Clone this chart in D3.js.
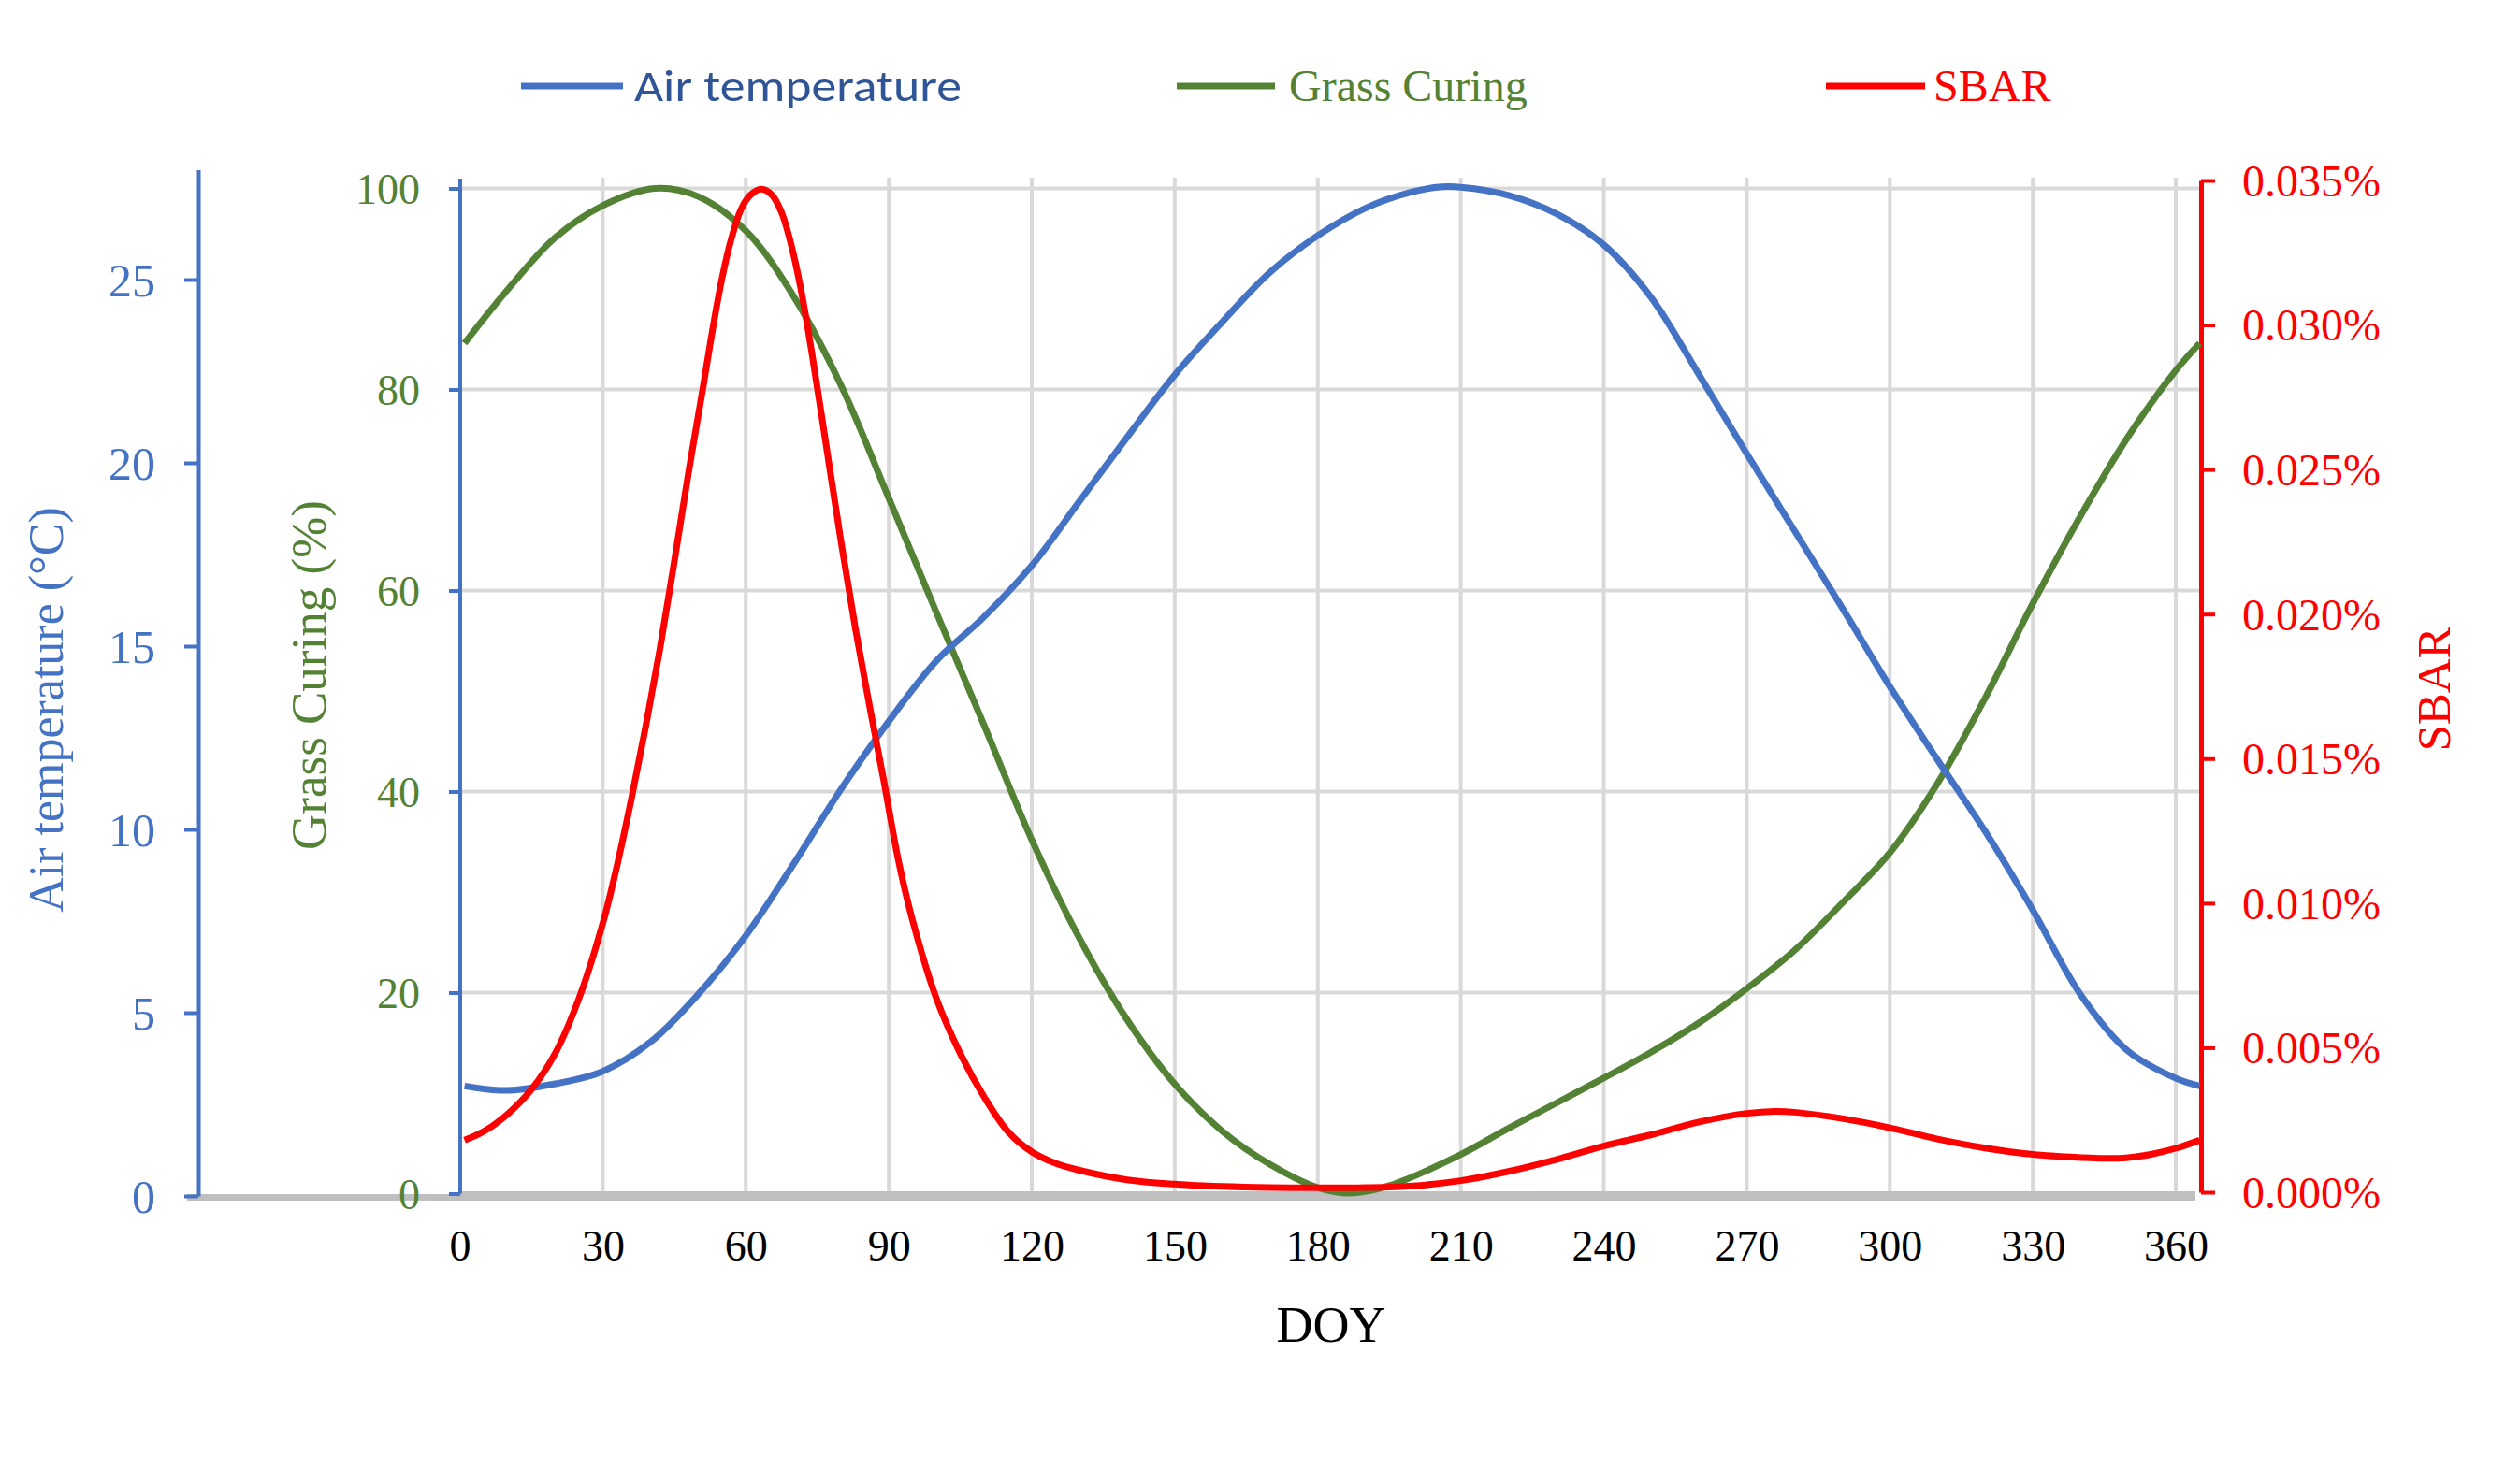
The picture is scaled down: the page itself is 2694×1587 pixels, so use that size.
<!DOCTYPE html>
<html><head><meta charset="utf-8">
<script src="https://cdn.jsdelivr.net/npm/d3@7"></script>
<style>
html,body{margin:0;padding:0;background:#fff;}
svg{display:block;}
</style></head><body>
<svg id="chart" width="2694" height="1587"></svg>
<script>
// ---------- DATA ----------
const seriesNames = ["Air temperature", "Grass Curing", "SBAR"];
const doyTicks = [0, 30, 60, 90, 120, 150, 180, 210, 240, 270, 300, 330, 360];
const airTicks = [0, 5, 10, 15, 20, 25];
const grassTicks = [0, 20, 40, 60, 80, 100];
const sbarTicks = [0, 0.005, 0.010, 0.015, 0.020, 0.025, 0.030, 0.035]; // in %

const airDoy = [1,10,20,30,40,50,60,70,80,90,100,110,120,130,140,150,160,170,180,190,200,206,210,220,230,240,250,260,270,280,290,300,310,320,330,340,350,360,365];
const airTemp = [3.0,2.88,3.06,3.4,4.2,5.5,7.1,9.05,11.1,12.95,14.6,15.8,17.2,18.95,20.7,22.4,23.85,25.2,26.2,26.95,27.4,27.53,27.52,27.3,26.8,25.95,24.5,22.4,20.25,18.15,16.05,13.9,11.9,9.95,7.8,5.5,3.95,3.21,3.0];

const grassDoy = [1,10,20,30,41,50,60,70,80,90,100,110,120,130,140,150,160,170,180,187,195,210,220,230,240,250,260,270,280,290,300,310,320,330,340,350,360,365];
const grassCuring = [84.6,89.9,95.1,98.3,100,99.2,95.8,89.3,80.4,69.2,57.8,46.6,35.2,25.4,17.3,10.9,6.2,2.9,0.6,0.05,0.8,3.9,6.5,9.0,11.5,14.1,17.0,20.4,24.2,28.9,33.9,40.8,49.3,58.7,67.4,75.3,81.9,84.6];

const sbarDoy = [1,5,10,15,20,25,30,33,36,39,42,45,48,51,53,55,57,59,61,63.3,65.5,67.5,69.5,71.5,74,77,80,83,86,89,92,95,100,105,110,115,120,125,130,140,150,160,170,180,190,200,210,220,230,240,250,260,270,276,280,290,300,310,320,330,340,345,350,355,360,365];
const sbarValues = [0.0018,0.0021,0.0027,0.00355,0.0048,0.0067,0.0093,0.0113,0.0136,0.0161,0.0188,0.0218,0.0249,0.0278,0.0298,0.0316,0.0330,0.0340,0.0345,0.0347,0.0345,0.0339,0.0328,0.0313,0.0289,0.0257,0.0225,0.0195,0.0168,0.0142,0.0115,0.0094,0.0067,0.0048,0.0033,0.0021,0.0014,0.001,0.00076,0.00043,0.00028,0.0002,0.00016,0.00015,0.00016,0.00022,0.0004,0.00072,0.00113,0.0016,0.00199,0.00243,0.00273,0.0028,0.00277,0.00255,0.00223,0.00184,0.00153,0.00131,0.0012,0.00117,0.0012,0.00132,0.00152,0.0018];

// ---------- STYLE ----------
const BLUE = "#4472C4", GREEN = "#548235", RED = "#FF0000", GRID = "#D9D9D9", BASE = "#BFBFBF";
const SERIF = "'Times New Roman','Liberation Serif',serif";

const svg = d3.select("#chart");

const x = d3.scaleLinear().domain([0, 365]).range([491.5, 2351.5]);
const yAir = d3.scaleLinear().domain([0, 28]).range([1279, 181.4]);
const yGrass = d3.scaleLinear().domain([0, 100]).range([1276.5, 201.5]);
const ySbar = d3.scaleLinear().domain([0, 0.035]).range([1275, 193]);

// gridlines
const grid = svg.append("g");
grid.selectAll("line.v").data(doyTicks.filter(d => d > 0)).join("line")
  .attr("x1", d => x(d)).attr("x2", d => x(d))
  .attr("y1", 190).attr("y2", 1276)
  .attr("stroke", GRID).attr("stroke-width", 4);
grid.selectAll("line.h").data(grassTicks.filter(d => d > 0)).join("line")
  .attr("x1", x(0)).attr("x2", x(365))
  .attr("y1", d => yGrass(d)).attr("y2", d => yGrass(d))
  .attr("stroke", GRID).attr("stroke-width", 4);

// gray baselines
svg.append("rect").attr("x", 200).attr("y", 1277).attr("width", 2147).attr("height", 7).attr("fill", BASE);
svg.append("rect").attr("x", x(0)).attr("y", 1274).attr("width", 2347 - x(0)).attr("height", 10).attr("fill", BASE);

// Air temperature axis
const gAir = svg.append("g").attr("transform", "translate(212,0)")
  .call(d3.axisLeft(yAir).tickValues(airTicks).tickSize(15).tickSizeOuter(0).tickPadding(31));
gAir.select(".domain").attr("stroke", BLUE).attr("stroke-width", 4);
gAir.selectAll(".tick line").attr("stroke", BLUE).attr("stroke-width", 4);
gAir.selectAll(".tick text").attr("fill", BLUE).attr("font-family", SERIF).attr("font-size", 50).attr("dy", "0.34em");

// Grass curing axis
const gGrass = svg.append("g").attr("transform", "translate(492,0)")
  .call(d3.axisLeft(yGrass).tickValues(grassTicks).tickSize(12).tickSizeOuter(0).tickPadding(31));
gGrass.select(".domain").remove();
gGrass.append("line").attr("x1", 0).attr("x2", 0).attr("y1", 191).attr("y2", yGrass(0))
  .attr("stroke", BLUE).attr("stroke-width", 4);
gGrass.selectAll(".tick line").attr("stroke", BLUE).attr("stroke-width", 4);
gGrass.selectAll(".tick text").attr("fill", GREEN).attr("font-family", SERIF).attr("font-size", 46).attr("dy", "0.34em");

// SBAR axis
const gSbar = svg.append("g").attr("transform", "translate(2353,0)")
  .call(d3.axisRight(ySbar).tickValues(sbarTicks).tickSize(15).tickSizeOuter(0).tickPadding(29)
    .tickFormat(d => d.toFixed(3) + "%"));
gSbar.select(".domain").attr("stroke", RED).attr("stroke-width", 5);
gSbar.selectAll(".tick line").attr("stroke", RED).attr("stroke-width", 4);
gSbar.selectAll(".tick text").attr("fill", RED).attr("font-family", SERIF).attr("font-size", 48).attr("dy", "0.34em");

// X axis labels
const gX = svg.append("g").attr("transform", "translate(0,1276)")
  .call(d3.axisBottom(x).tickValues(doyTicks).tickSize(0));
gX.select(".domain").remove();
gX.selectAll(".tick text").attr("fill", "#000").attr("font-family", SERIF).attr("font-size", 46)
  .attr("y", 72).attr("dy", 0);

// axis titles
svg.append("text").attr("transform", "translate(67,759) rotate(-90)")
  .attr("text-anchor", "middle").attr("font-family", SERIF).attr("font-size", 52)
  .attr("fill", BLUE).text("Air temperature (°C)");
svg.append("text").attr("transform", "translate(348,722) rotate(-90)")
  .attr("text-anchor", "middle").attr("font-family", SERIF).attr("font-size", 53)
  .attr("fill", GREEN).text("Grass Curing (%)");
svg.append("text").attr("transform", "translate(2619,737) rotate(-90)")
  .attr("text-anchor", "middle").attr("font-family", SERIF).attr("font-size", 51)
  .attr("fill", RED).text("SBAR");
svg.append("text").attr("x", 1423).attr("y", 1435)
  .attr("text-anchor", "middle").attr("font-family", SERIF).attr("font-size", 54)
  .attr("fill", "#000").text("DOY");

// series lines
const line = (xs, ys, yScale) => d3.line()
  .x((d, i) => x(xs[i])).y((d, i) => yScale(ys[i]))
  .curve(d3.curveCatmullRom.alpha(0.5))(ys);

svg.append("path").attr("d", line(grassDoy, grassCuring, yGrass))
  .attr("fill", "none").attr("stroke", GREEN).attr("stroke-width", 7).attr("stroke-linejoin", "round");
svg.append("path").attr("d", line(airDoy, airTemp, yAir))
  .attr("fill", "none").attr("stroke", BLUE).attr("stroke-width", 7).attr("stroke-linejoin", "round");
svg.append("path").attr("d", line(sbarDoy, sbarValues, ySbar))
  .attr("fill", "none").attr("stroke", RED).attr("stroke-width", 7).attr("stroke-linejoin", "round");

// legend
const legend = [
  {name: seriesNames[0], color: BLUE, text: "#2F5597", x1: 557, x2: 666, tx: 678, font: "Carlito, Lato, sans-serif", size: 47, len: 350},
  {name: seriesNames[1], color: GREEN, text: GREEN, x1: 1258, x2: 1363, tx: 1378, font: SERIF, size: 48, len: null},
  {name: seriesNames[2], color: RED, text: RED, x1: 1952, x2: 2058, tx: 2067, font: SERIF, size: 48, len: null}
];
const lg = svg.append("g");
legend.forEach(l => {
  lg.append("line").attr("x1", l.x1).attr("x2", l.x2).attr("y1", 92).attr("y2", 92)
    .attr("stroke", l.color).attr("stroke-width", 7);
  const t = lg.append("text").attr("x", l.tx).attr("y", 108)
    .attr("font-family", l.font).attr("font-size", l.size).attr("fill", l.text).text(l.name);
  if (l.len) t.attr("textLength", l.len).attr("lengthAdjust", "spacingAndGlyphs");
});
</script>
</body></html>
